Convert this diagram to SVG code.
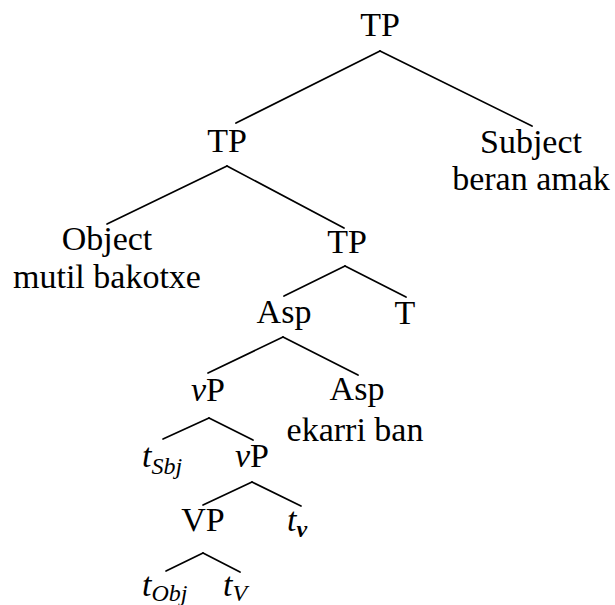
<svg xmlns="http://www.w3.org/2000/svg" width="615" height="605" viewBox="0 0 615 605">
<style>
text{font-size:34px;fill:#000}
.m{text-anchor:middle}
.i{font-style:italic}
.sub{font-size:24px;font-style:italic}
#edges line{stroke:#000;stroke-width:1.7;stroke-linecap:round}
</style>
<rect width="615" height="605" fill="#fff"/>
<g id="edges">
<line x1="380" y1="51" x2="236" y2="123"/>
<line x1="380" y1="51" x2="532" y2="126"/>
<line x1="227" y1="166" x2="107" y2="224"/>
<line x1="227" y1="166" x2="344" y2="228"/>
<line x1="345" y1="266" x2="284" y2="296"/>
<line x1="345" y1="266" x2="406" y2="297"/>
<line x1="283" y1="337" x2="208" y2="373"/>
<line x1="283" y1="337" x2="358" y2="375"/>
<line x1="209" y1="418" x2="163" y2="439"/>
<line x1="209" y1="418" x2="253" y2="440"/>
<line x1="252" y1="482" x2="203" y2="505"/>
<line x1="252" y1="482" x2="301" y2="506"/>
<line x1="203" y1="553" x2="166" y2="571"/>
<line x1="203" y1="553" x2="240" y2="572"/>
</g>
<g font-family="'Liberation Serif', 'DejaVu Serif', serif">
<g id="tp-root"><text class="m" x="380" y="36">TP</text></g>
<g id="tp-2"><text class="m" x="227" y="152">TP</text></g>
<g id="subject"><text class="m" x="531" y="153">Subject</text><text class="m" x="531" y="190">beran amak</text></g>
<g id="object"><text class="m" x="107" y="250">Object</text><text class="m" x="107" y="288">mutil bakotxe</text></g>
<g id="tp-3"><text class="m" x="347" y="253">TP</text></g>
<g id="asp-1"><text class="m" x="284" y="323">Asp</text></g>
<g id="t"><text class="m" x="405" y="324">T</text></g>
<g id="vp-1"><text class="m" x="208" y="401"><tspan class="i">v</tspan>P</text></g>
<g id="asp-2"><text class="m" x="357" y="400">Asp</text><text class="m" x="355" y="441">ekarri ban</text></g>
<g id="t-sbj"><text x="142" y="467"><tspan class="i">t</tspan><tspan class="sub" dy="7">Sbj</tspan></text></g>
<g id="vp-2"><text class="m" x="252" y="467"><tspan class="i">v</tspan>P</text></g>
<g id="VP"><text class="m" x="203" y="531">VP</text></g>
<g id="t-v"><text x="287" y="531"><tspan class="i">t</tspan><tspan class="sub" dy="6" font-weight="bold">v</tspan></text></g>
<g id="t-obj"><text x="142" y="596"><tspan class="i">t</tspan><tspan class="sub" dy="5">Obj</tspan></text></g>
<g id="t-V"><text x="223" y="596"><tspan class="i">t</tspan><tspan class="sub" dy="5">V</tspan></text></g>
</g>
</svg>
